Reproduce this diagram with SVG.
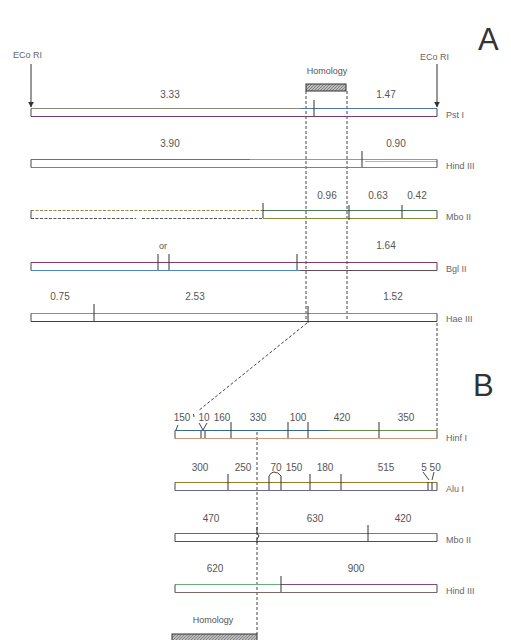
<svg xmlns="http://www.w3.org/2000/svg" width="511" height="640" viewBox="0 0 511 640">
<defs>
<style>
.lbl{font-family:"Liberation Sans",Arial,sans-serif;font-size:10px;fill:#555;text-anchor:middle}
.enz{font-family:"Liberation Sans",Arial,sans-serif;font-size:9px;fill:#666}
.big{font-family:"Liberation Sans",Arial,sans-serif;font-size:31px;fill:#333}
.tick{stroke:#333;stroke-width:1}
.end{stroke:#444;stroke-width:1;fill:none}
.dash{stroke:#444;stroke-width:1;stroke-dasharray:3 2;fill:none}
.hatch{fill:url(#hp);stroke:#333;stroke-width:1}
</style>
<pattern id="hp" width="3" height="3" patternUnits="userSpaceOnUse">
<rect width="3" height="3" fill="#bbb"/>
<path d="M0 3L3 0" stroke="#777" stroke-width="0.8"/>
</pattern>
<marker id="ah" viewBox="0 0 10 10" refX="9" refY="5" markerWidth="6" markerHeight="6" orient="auto">
<path d="M0 0L10 5L0 10z" fill="#333"/>
</marker>
</defs>
<rect width="511" height="640" fill="#fff"/>

<text class="big" x="478" y="50">A</text>
<text class="big" x="473" y="396">B</text>

<g id="ecori-left">
<text class="enz" x="13" y="58">ECo RI</text>
</g>
<g id="ecori-right">
<text class="enz" x="420" y="60">ECo RI</text>
</g>

<g id="homology-a">
<text class="lbl" x="327" y="74" style="font-size:9px">Homology</text>
<rect class="hatch" x="306" y="84" width="40" height="7"/>
</g>

<g id="connectors">
<line x1="31" y1="64" x2="31" y2="107" stroke="#333" marker-end="url(#ah)"/>
<line x1="437" y1="64" x2="437" y2="107" stroke="#333" marker-end="url(#ah)"/>
<line class="dash" x1="306" y1="91" x2="306" y2="322"/>
<line class="dash" x1="347" y1="91" x2="347" y2="322"/>
<line class="dash" x1="307" y1="323" x2="198" y2="411"/>
<line class="dash" x1="437" y1="323" x2="437" y2="430"/>
<line class="dash" x1="257" y1="432" x2="257" y2="634"/>
</g>

<g id="pst1">
<line x1="31" y1="108.5" x2="300" y2="108.5" stroke="#8a8a7a"/>
<line x1="300" y1="108.5" x2="437" y2="108.5" stroke="#4a78a8"/>
<line x1="31" y1="116.5" x2="437" y2="116.5" stroke="#7a3a72"/>
<path class="end" d="M31 108.5V116.5M437 108.5V116.5"/>
<line class="tick" x1="314" y1="100" x2="314" y2="116"/>
<text class="lbl" x="170" y="98">3.33</text>
<text class="lbl" x="386" y="98">1.47</text>
<text class="enz" x="446" y="118">Pst I</text>
</g>

<g id="hind3-a">
<line x1="31" y1="159.5" x2="250" y2="159.5" stroke="#8a6a4a"/>
<line x1="250" y1="159.5" x2="437" y2="159.5" stroke="#8aa86a"/>
<line x1="31" y1="167.5" x2="437" y2="167.5" stroke="#b060a8"/>
<line x1="365" y1="161.5" x2="437" y2="161.5" stroke="#7cc8e0"/>
<path class="end" d="M31 159.5V167.5M437 159.5V167.5"/>
<line class="tick" x1="362" y1="151" x2="362" y2="167"/>
<text class="lbl" x="170" y="147">3.90</text>
<text class="lbl" x="396" y="147">0.90</text>
<text class="enz" x="446" y="169">Hind III</text>
</g>

<g id="mbo2-a">
<line x1="31" y1="210.5" x2="263" y2="210.5" stroke="#8a8a4a" stroke-dasharray="3 1.5"/>
<line x1="31" y1="218.5" x2="136" y2="218.5" stroke="#555" stroke-dasharray="3 1.5"/>
<line x1="142" y1="218.5" x2="263" y2="218.5" stroke="#555" stroke-dasharray="3 1.5"/>
<line x1="263" y1="210.5" x2="437" y2="210.5" stroke="#4a7a5a"/>
<line x1="263" y1="218.5" x2="437" y2="218.5" stroke="#8a8a3a"/>
<path class="end" d="M31 210.5V218.5M437 210.5V218.5"/>
<line class="tick" x1="263" y1="203" x2="263" y2="218"/>
<line class="tick" x1="349" y1="205" x2="349" y2="220" stroke-width="2"/>
<line class="tick" x1="402" y1="205" x2="402" y2="218"/>
<text class="lbl" x="327" y="199">0.96</text>
<text class="lbl" x="378" y="199">0.63</text>
<text class="lbl" x="417" y="199">0.42</text>
<text class="enz" x="446" y="220">Mbo II</text>
</g>

<g id="bgl2">
<line x1="31" y1="262.5" x2="437" y2="262.5" stroke="#8a3a62"/>
<line x1="31" y1="270.5" x2="300" y2="270.5" stroke="#4a88c8"/>
<line x1="300" y1="270.5" x2="437" y2="270.5" stroke="#6a4a5a"/>
<path class="end" d="M31 262.5V270.5M437 262.5V270.5"/>
<line class="tick" x1="158" y1="254" x2="158" y2="270"/>
<line class="tick" x1="169" y1="254" x2="169" y2="270"/>
<line class="tick" x1="297" y1="254" x2="297" y2="270"/>
<text class="lbl" x="163" y="249" style="font-size:9px">or</text>
<text class="lbl" x="386" y="249">1.64</text>
<text class="enz" x="446" y="272">Bgl II</text>
</g>

<g id="hae3">
<line x1="31" y1="313.5" x2="437" y2="313.5" stroke="#c068a8"/>
<line x1="31" y1="321.5" x2="437" y2="321.5" stroke="#3a3a7a"/>
<path class="end" d="M31 313.5V321.5M437 313.5V321.5"/>
<line class="tick" x1="94" y1="304" x2="94" y2="321"/>
<line class="tick" x1="308" y1="306" x2="308" y2="323" stroke-width="2"/>
<text class="lbl" x="60" y="300">0.75</text>
<text class="lbl" x="195" y="300">2.53</text>
<text class="lbl" x="393" y="300">1.52</text>
<text class="enz" x="446" y="322">Hae III</text>
</g>

<g id="hinf1">
<line x1="175" y1="430.5" x2="330" y2="430.5" stroke="#3a6a8a"/>
<line x1="330" y1="430.5" x2="437" y2="430.5" stroke="#6a8a4a"/>
<line x1="175" y1="438.5" x2="437" y2="438.5" stroke="#d09a7a"/>
<path class="end" d="M175 430.5V438.5M437 430.5V438.5"/>
<line class="tick" x1="201" y1="431" x2="201" y2="438"/>
<line class="tick" x1="205" y1="431" x2="205" y2="438"/>
<path class="end" d="M199 423L203 430L207 423"/>
<path class="end" d="M176 430L178 425M193.5 414L194 417"/>
<line class="tick" x1="231" y1="422" x2="231" y2="438"/>
<line class="tick" x1="288" y1="422" x2="288" y2="438"/>
<line class="tick" x1="308" y1="422" x2="308" y2="438"/>
<line class="tick" x1="379" y1="422" x2="379" y2="438"/>
<text class="lbl" x="182" y="421">150</text>
<text class="lbl" x="204" y="421">10</text>
<text class="lbl" x="222" y="421">160</text>
<text class="lbl" x="258" y="421">330</text>
<text class="lbl" x="298" y="421">100</text>
<text class="lbl" x="342" y="421">420</text>
<text class="lbl" x="406" y="421">350</text>
<text class="enz" x="446" y="441">Hinf I</text>
</g>

<g id="alu1">
<line x1="175" y1="482.5" x2="437" y2="482.5" stroke="#9a7a2a"/>
<line x1="175" y1="490.5" x2="437" y2="490.5" stroke="#6a6a9a"/>
<path class="end" d="M175 482.5V490.5M437 482.5V490.5"/>
<line class="tick" x1="228" y1="474" x2="228" y2="490"/>
<line class="tick" x1="269" y1="476" x2="269" y2="490"/>
<line class="tick" x1="281" y1="476" x2="281" y2="490"/>
<path class="end" d="M269 476Q271 472 274 472Q278 472 281 476"/>
<line class="tick" x1="310" y1="474" x2="310" y2="490"/>
<line class="tick" x1="341" y1="474" x2="341" y2="490"/>
<line class="tick" x1="428" y1="482" x2="428" y2="490"/>
<line class="tick" x1="432" y1="482" x2="432" y2="490"/>
<path class="end" d="M423 472L429 480M434 472L432 480"/>
<text class="lbl" x="200" y="471">300</text>
<text class="lbl" x="243" y="471">250</text>
<text class="lbl" x="276" y="471">70</text>
<text class="lbl" x="294" y="471">150</text>
<text class="lbl" x="325" y="471">180</text>
<text class="lbl" x="386" y="471">515</text>
<text class="lbl" x="431" y="471">5 50</text>
<text class="enz" x="446" y="492">Alu I</text>
</g>

<g id="mbo2-b">
<line x1="175" y1="533.5" x2="257" y2="533.5" stroke="#666"/>
<line x1="257" y1="533.5" x2="437" y2="533.5" stroke="#9a6a8a"/>
<line x1="175" y1="541.5" x2="437" y2="541.5" stroke="#5a4a5a"/>
<path class="end" d="M175 533.5V541.5M437 533.5V541.5"/>
<path class="tick" d="M257 527V533L259 536L257 539V543" fill="none" stroke-width="1.5"/>
<line class="tick" x1="368" y1="525" x2="368" y2="541"/>
<text class="lbl" x="211" y="522">470</text>
<text class="lbl" x="315" y="522">630</text>
<text class="lbl" x="403" y="522">420</text>
<text class="enz" x="446" y="543">Mbo II</text>
</g>

<g id="hind3-b">
<line x1="175" y1="584.5" x2="281" y2="584.5" stroke="#6aaa7a"/>
<line x1="281" y1="584.5" x2="437" y2="584.5" stroke="#7a4a8a"/>
<line x1="175" y1="592.5" x2="437" y2="592.5" stroke="#7a6a6a"/>
<path class="end" d="M175 584.5V592.5M437 584.5V592.5"/>
<line class="tick" x1="281" y1="576" x2="281" y2="592"/>
<text class="lbl" x="215" y="572">620</text>
<text class="lbl" x="356" y="572">900</text>
<text class="enz" x="446" y="594">Hind III</text>
</g>

<g id="homology-b">
<text class="lbl" x="213" y="623" style="font-size:9px">Homology</text>
<rect class="hatch" x="172" y="634" width="85" height="8"/>
</g>
</svg>
